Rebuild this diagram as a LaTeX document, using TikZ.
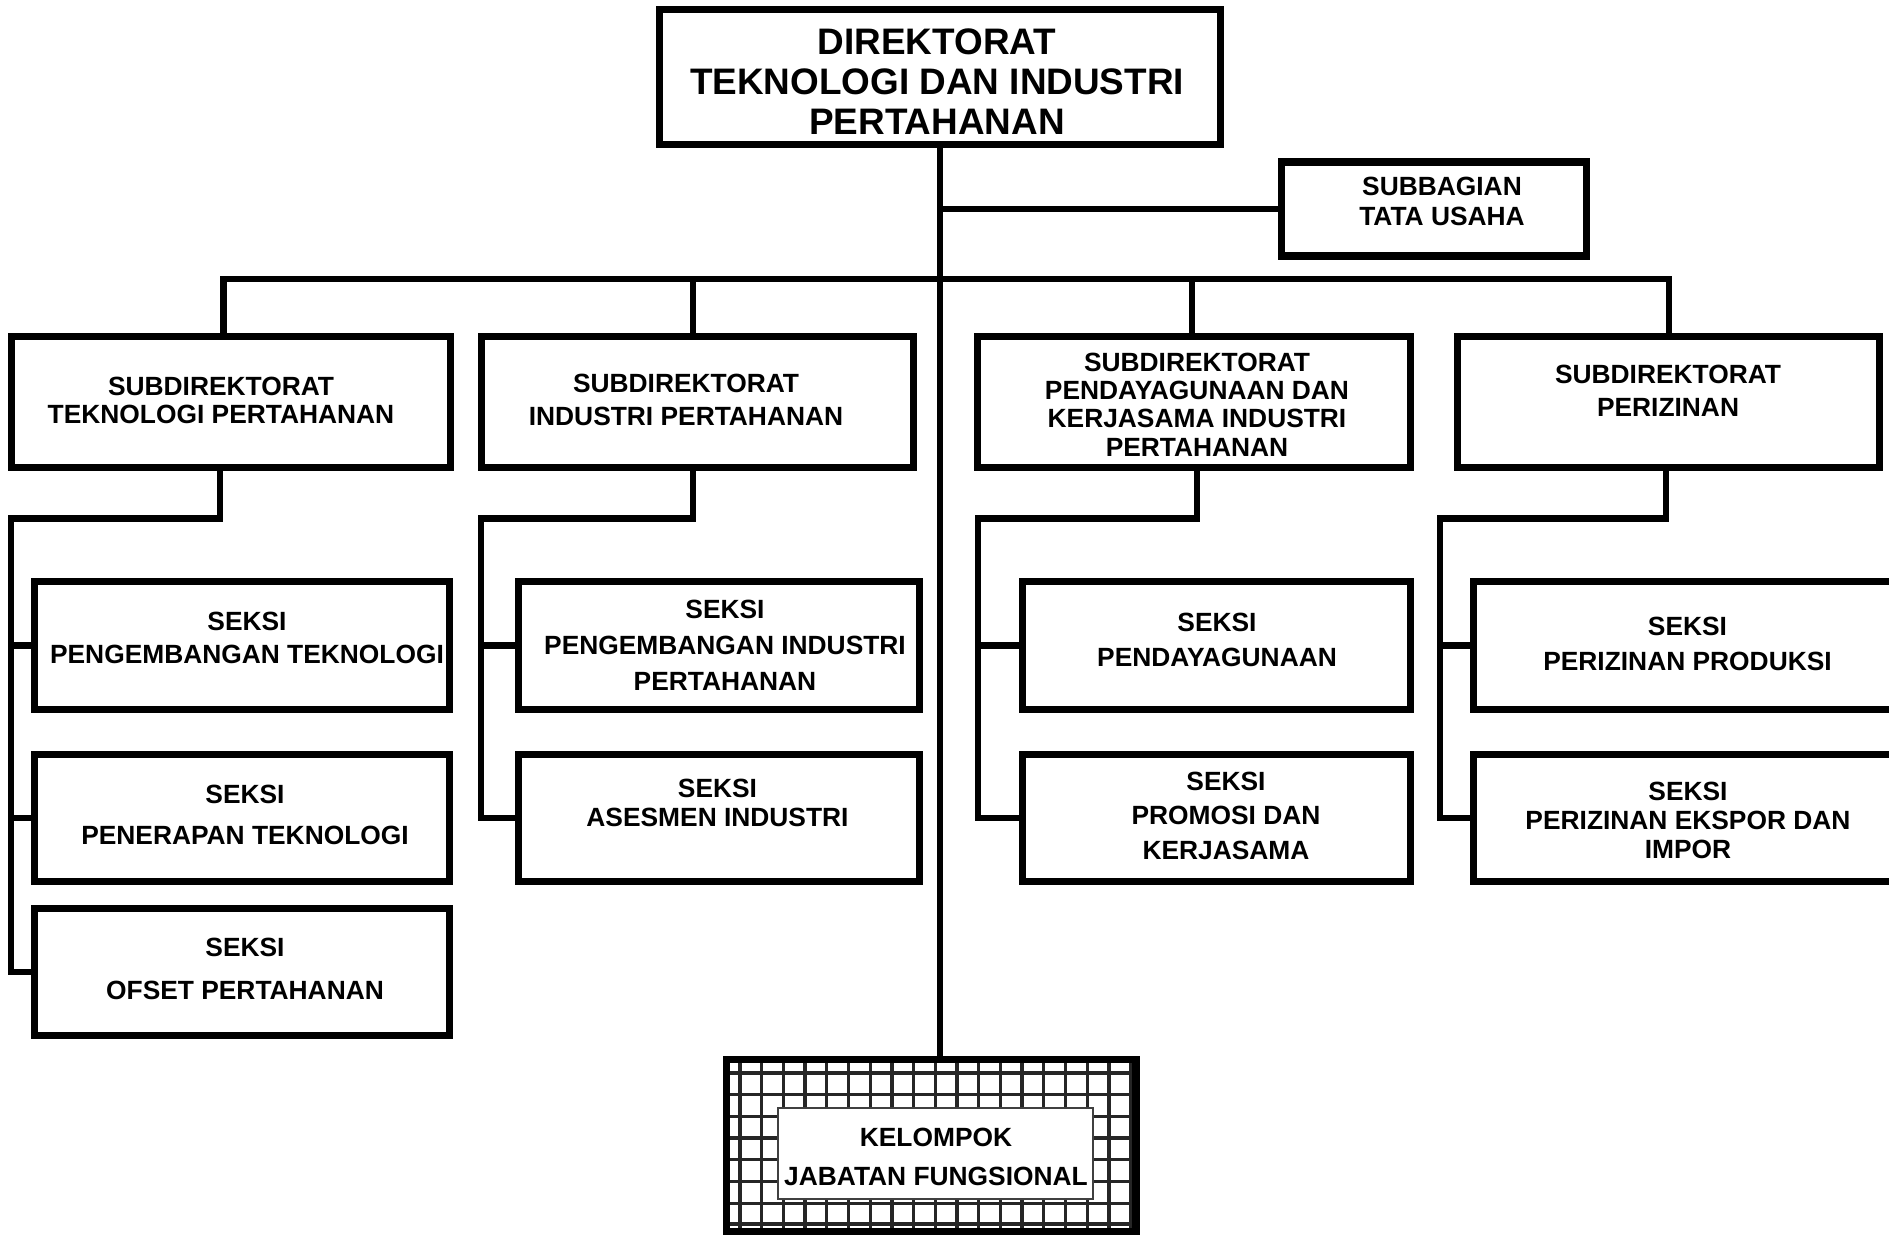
\documentclass[tikz,border=0pt]{standalone}
\usepackage{fontspec}
\setmainfont{Liberation Sans}

\begin{document}
\begin{tikzpicture}[x=0.02cm, y=-0.02cm,
        box/.style={draw, line width=4pt, inner sep=0pt},
        sz/.style 2 args={minimum width=#1*0.02cm, minimum height=#2*0.02cm},
        conn/.style={line width=3.8pt},
        txt/.style={font=\bfseries\fontsize{15}{#1}\selectfont, align=center, inner sep=0pt},
        grid/.style={line width=1.9pt, black!85}]
    \useasboundingbox (0,0) rectangle (1889,1235);

    % direktorat dan subbagian
    \node[box, sz={561}{135}] (dir) at (940,77) {};
    \node[font=\bfseries\fontsize{21}{22.8}\selectfont, align=center, inner sep=0pt] (dirt) at (937,81.5) {DIREKTORAT\\TEKNOLOGI DAN INDUSTRI\\PERTAHANAN};
    \node[box, sz={305}{94}] (tu) at (1434,209) {};
    \node[txt=17] (tut) at (1442,201.5) {SUBBAGIAN\\TATA USAHA};

    % subdirektorat
    \node[box, sz={439}{131}] (sd1) at (231,402) {};
    \node[txt=16] (sd1t) at (221,400) {SUBDIREKTORAT\\TEKNOLOGI PERTAHANAN};
    \node[box, sz={432}{131}] (sd2) at (697.5,402) {};
    \node[txt=18.8] (sd2t) at (686,399.5) {SUBDIREKTORAT\\INDUSTRI PERTAHANAN};
    \node[box, sz={433}{131}] (sd3) at (1194,402) {};
    \node[txt=16.1] (sd3t) at (1197,404.5) {SUBDIREKTORAT\\PENDAYAGUNAAN DAN\\KERJASAMA INDUSTRI\\PERTAHANAN};
    \node[box, sz={422}{131}] (sd4) at (1668.5,402) {};
    \node[txt=18.8] (sd4t) at (1668,391) {SUBDIREKTORAT\\PERIZINAN};

    % seksi
    \node[box, sz={415}{128}] (s1a) at (242,645.5) {};
    \node[txt=18.8] (s1at) at (247,637.5) {SEKSI\\PENGEMBANGAN TEKNOLOGI};
    \node[box, sz={415}{127}] (s1b) at (242,818) {};
    \node[txt=23.6] (s1bt) at (245,814.75) {SEKSI\\PENERAPAN TEKNOLOGI};
    \node[box, sz={415}{127}] (s1c) at (242,972) {};
    \node[txt=24.2] (s1ct) at (245,969) {SEKSI\\OFSET PERTAHANAN};

    \node[box, sz={401}{128}] (s2a) at (719,645.5) {};
    \node[txt=20.5] (s2at) at (725,645) {SEKSI\\PENGEMBANGAN INDUSTRI\\PERTAHANAN};
    \node[box, sz={401}{127}] (s2b) at (719,818) {};
    \node[txt=16.8] (s2bt) at (717.5,803) {SEKSI\\ASESMEN INDUSTRI};

    \node[box, sz={388}{128}] (s3a) at (1216.5,645.5) {};
    \node[txt=19.6] (s3at) at (1217,640) {SEKSI\\PENDAYAGUNAAN};
    \node[box, sz={388}{127}] (s3b) at (1216.5,818) {};
    \node[txt=19.6] (s3bt) at (1226,815.5) {SEKSI\\PROMOSI DAN\\KERJASAMA};

    \node[box, sz={426.5}{128}] (s4a) at (1686.75,645.5) {};
    \node[txt=19.9] (s4at) at (1687.5,643.5) {SEKSI\\PERIZINAN PRODUKSI};
    \node[box, sz={426.5}{127}] (s4b) at (1686.75,818) {};
    \node[txt=16.5] (s4bt) at (1688,820) {SEKSI\\PERIZINAN EKSPOR DAN\\IMPOR};

    % kelompok jabatan fungsional
    \begin{scope}
        \clip (726.5,1059.5) rectangle (1136,1231.5);
        \foreach \gx in {0,...,18}
            \draw[grid] (740+\gx*21.7,1050) -- (740+\gx*21.7,1240);
        \foreach \gy in {0,...,6}
            \draw[grid] (720,1073+\gy*21.7) -- (1140,1073+\gy*21.7);
        \draw[grid] (720,1224) -- (1140,1224);
    \end{scope}
    \node[box, line width=4.2pt, sz={409.5}{172}] (kjf) at (931.25,1145.5) {};
    \node[draw=black!75, line width=1pt, fill=white, sz={315}{91}] (kin) at (935.5,1153.5) {};
    \node[txt=21.9] (kint) at (936,1157) {KELOMPOK\\JABATAN FUNGSIONAL};

    % garis
    \coordinate (b1) at (223.5,279);
    \coordinate (b2) at (693,279);
    \coordinate (b3) at (1192,279);
    \coordinate (b4) at (1669,279);
    \draw[conn] (dir.south) -- (dir.south |- kjf.north);
    \draw[conn] (dir.south |- tu.west) -- (tu.west);
    \draw[conn] (b1 |- sd1.north) -- (b1) -- (b4) -- (b4 |- sd4.north);
    \draw[conn] (b2) -- (b2 |- sd2.north);
    \draw[conn] (b3) -- (b3 |- sd3.north);

    \coordinate (k1) at (220,518.5);
    \coordinate (v1) at (11,518.5);
    \draw[conn] (k1 |- sd1.south) -- (k1) -- (v1) |- (s1c.west);
    \draw[conn] (v1 |- s1a.west) -- (s1a.west);
    \draw[conn] (v1 |- s1b.west) -- (s1b.west);

    \coordinate (k2) at (693,518.5);
    \coordinate (v2) at (481,518.5);
    \draw[conn] (k2 |- sd2.south) -- (k2) -- (v2) |- (s2b.west);
    \draw[conn] (v2 |- s2a.west) -- (s2a.west);

    \coordinate (k3) at (1197,518.5);
    \coordinate (v3) at (978,518.5);
    \draw[conn] (k3 |- sd3.south) -- (k3) -- (v3) |- (s3b.west);
    \draw[conn] (v3 |- s3a.west) -- (s3a.west);

    \coordinate (k4) at (1666,518.5);
    \coordinate (v4) at (1440,518.5);
    \draw[conn] (k4 |- sd4.south) -- (k4) -- (v4) |- (s4b.west);
    \draw[conn] (v4 |- s4a.west) -- (s4a.west);
\end{tikzpicture}
\end{document}
